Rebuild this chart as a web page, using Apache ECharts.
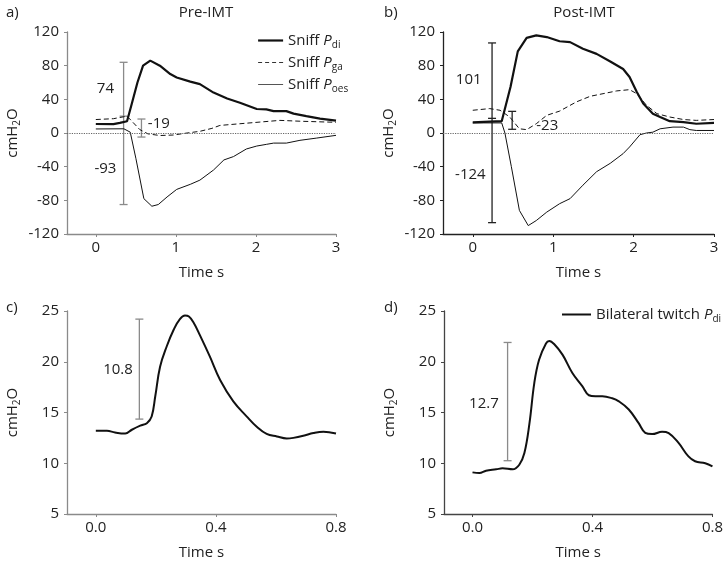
<!DOCTYPE html>
<html><head><meta charset="utf-8">
<script src="https://cdn.jsdelivr.net/npm/echarts@6/dist/echarts.min.js"></script>
<style>html,body{margin:0;padding:0;background:#fff}#c{width:726px;height:564px}</style>
</head><body><div id="c"></div>
<script>
// ---------- DATA ----------
const timeTicksSniff = [0, 1, 2, 3];
const timeTicksTwitch = [0, 0.4, 0.8];
const panelTitles = ['Pre-IMT', 'Post-IMT'];
const panelLetters = ['a)', 'b)', 'c)', 'd)'];
const seriesNames = ['Sniff Pdi', 'Sniff Pga', 'Sniff Poes', 'Bilateral twitch Pdi'];

// Panel a (Pre-IMT) [time s, cmH2O]
const aPdi = [[0,10.7],[0.22,10.5],[0.3,12],[0.39,14],[0.45,35],[0.52,60],[0.59,80],[0.68,86],[0.8,80],[0.93,70],[1.01,66],[1.18,61],[1.3,58],[1.47,48],[1.64,41],[1.8,36],[2.01,28.5],[2.13,28],[2.22,26],[2.38,26],[2.47,23],[2.63,20],[2.8,17],[3.0,14.7]];
const aPga = [[0,16],[0.22,17],[0.39,20],[0.47,12],[0.55,4],[0.65,-1],[0.8,-3],[0.97,-2.4],[1.14,0],[1.3,2],[1.45,5.5],[1.55,9],[1.8,11],[2.05,13],[2.3,15],[2.55,14],[3.0,12.7]];
const aPoes = [[0,4.8],[0.35,5],[0.43,1],[0.5,-30],[0.6,-78],[0.7,-87],[0.78,-85],[0.89,-76],[1.01,-67],[1.18,-61],[1.3,-56],[1.47,-44],[1.6,-32],[1.72,-28],[1.88,-19],[2.01,-15.5],[2.13,-13.5],[2.22,-12],[2.38,-12],[2.55,-8.7],[2.76,-6],[3.0,-2.8]];

// Panel b (Post-IMT)
const bPdi = [[0,12.7],[0.21,13.5],[0.36,14],[0.38,15],[0.47,55],[0.56,97],[0.67,113],[0.79,116],[0.92,114],[1.08,109],[1.21,108],[1.37,100],[1.54,94],[1.71,85],[1.87,76],[1.95,66.5],[2.04,48.7],[2.12,35],[2.24,23],[2.33,19],[2.45,14],[2.62,13],[2.78,11],[3.0,12]];
const bPga = [[0,27],[0.21,29],[0.34,27],[0.46,19],[0.58,5],[0.67,4],[0.79,11],[0.92,21],[1.08,26],[1.29,37],[1.46,43.6],[1.62,46.7],[1.79,50],[1.95,51.5],[2.04,46.7],[2.16,33],[2.29,23],[2.45,19],[2.62,16],[2.78,15],[3.0,16]];
const bPoes = [[0,12],[0.36,12],[0.4,0],[0.48,-40],[0.58,-92],[0.69,-110],[0.79,-104],[0.92,-94],[1.08,-84],[1.21,-78],[1.37,-62],[1.54,-46],[1.71,-36],[1.87,-24.5],[1.95,-16.6],[2.08,-2],[2.16,0],[2.24,1],[2.33,5],[2.49,7],[2.62,7],[2.7,4],[2.78,3],[3.0,3]];

// Panel c (Pre-IMT twitch)
const cTwitch = [[0,13.2],[0.037,13.2],[0.064,13.03],[0.098,12.93],[0.12,13.3],[0.148,13.7],[0.17,13.95],[0.186,14.6],[0.198,16.6],[0.214,19.5],[0.236,21.5],[0.26,23.2],[0.28,24.2],[0.297,24.55],[0.31,24.45],[0.325,23.9],[0.347,22.6],[0.38,20.5],[0.414,18.2],[0.458,16.1],[0.503,14.6],[0.536,13.6],[0.569,12.9],[0.603,12.64],[0.636,12.44],[0.658,12.5],[0.691,12.7],[0.725,12.97],[0.758,13.1],[0.8,12.93]];
// Panel d (Post-IMT twitch)
const dTwitch = [[0,9.1],[0.023,9.03],[0.045,9.26],[0.079,9.4],[0.1,9.5],[0.134,9.4],[0.156,9.85],[0.173,11],[0.19,13.95],[0.206,17.9],[0.222,20.2],[0.245,21.8],[0.256,22.05],[0.272,21.75],[0.3,20.7],[0.333,18.9],[0.366,17.6],[0.388,16.7],[0.41,16.6],[0.433,16.6],[0.466,16.4],[0.488,16.1],[0.521,15.3],[0.554,13.95],[0.576,13.0],[0.599,12.87],[0.632,13.1],[0.654,12.97],[0.687,12.0],[0.72,10.67],[0.742,10.2],[0.776,10.0],[0.8,9.7]];

// Error bars [time, low, high]; optional middle caps
const aBars = [[0.347,-85,84],[0.57,-4.8,16.6]];
const aMidCaps = [[0.347,20]];
const bBars = [[0.24,-106.5,107],[0.49,4.4,25.7]];
const bMidCaps = [[0.24,17.4]];
const cBars = [[0.145,14.35,24.2]];
const dBars = [[0.117,10.25,21.9]];

// Annotations [time, value], labels
const aNotePos = [[0.12,52],[0.12,-42],[0.65,11.5]];
const aNoteText = ['74','-93','-19'];
const bNotePos = [[-0.05,63],[-0.03,-50],[0.79,8.3]];
const bNoteText = ['101','-124','-23'];
const cNotePos = [[0.074,19.2]];
const cNoteText = ['10.8'];
const dNotePos = [[0.038,15.9]];
const dNoteText = ['12.7'];

// ---------- CHART ----------
const FONT = 'Open Sans';
const FS = 15;
const chart = echarts.init(document.getElementById('c'));
const rich = {
  t: {fontFamily: FONT, fontSize: FS, color: '#222', lineHeight: 19},
  i: {fontFamily: FONT, fontSize: FS, color: '#222', fontStyle: 'italic', lineHeight: 19},
  s: {fontFamily: FONT, fontSize: 10, color: '#222', verticalAlign: 'bottom', lineHeight: 12}
};
const grids = [
  {left: 67, top: 32, width: 269, height: 202},
  {left: 443, top: 32, width: 271, height: 202},
  {left: 67, top: 311, width: 269, height: 203},
  {left: 444, top: 311, width: 270, height: 203}
];
const axisCols = ['#8a8a8a', '#222', '#8a8a8a', '#444'];
const barCols = ['#8a8a8a', '#222', '#8a8a8a', '#8a8a8a'];

function xAx(i, min, max, ticks, fmt) {
  return {
    type: 'value', gridIndex: i, min: min, max: max,
    name: 'Time s', nameLocation: 'middle', nameGap: 31,
    nameTextStyle: {fontFamily: FONT, fontSize: FS, color: '#222'},
    axisLine: {show: true, onZero: false, lineStyle: {color: axisCols[i], width: 1.3}},
    axisTick: {show: true, length: 3, customValues: ticks, lineStyle: {color: axisCols[i]}},
    axisLabel: {customValues: ticks, margin: 6, fontFamily: FONT, fontSize: FS, color: '#222', formatter: fmt},
    splitLine: {show: false}
  };
}
function yAx(i, min, max, interval) {
  return {
    type: 'value', gridIndex: i, min: min, max: max, interval: interval,
    name: '{t|cmH}{s|2}{t|O}', nameLocation: 'middle', nameGap: 45, nameRotate: 90,
    nameTextStyle: {rich: rich},
    axisLine: {show: true, onZero: false, lineStyle: {color: axisCols[i], width: 1.3}},
    axisTick: {show: true, length: 3, lineStyle: {color: axisCols[i]}},
    axisLabel: {margin: 8, fontFamily: FONT, fontSize: FS, color: '#222'},
    splitLine: {show: false}
  };
}

function barSeries(i, bars, mids) {
  return {
    type: 'custom', xAxisIndex: i, yAxisIndex: i, data: bars, silent: true, z: 1,
    encode: {x: 0, y: [1, 2]},
    renderItem: function (params, api) {
      const x = api.value(0);
      const lo = api.coord([x, api.value(1)]);
      const hi = api.coord([x, api.value(2)]);
      const st = {stroke: barCols[i], lineWidth: 1.3};
      const w = 4;
      const ch = [
        {type: 'line', shape: {x1: lo[0], y1: lo[1], x2: hi[0], y2: hi[1]}, style: st},
        {type: 'line', shape: {x1: lo[0]-w, y1: lo[1], x2: lo[0]+w, y2: lo[1]}, style: st},
        {type: 'line', shape: {x1: hi[0]-w, y1: hi[1], x2: hi[0]+w, y2: hi[1]}, style: st}
      ];
      (mids || []).forEach(function (m) {
        if (m[0] === x) {
          const p = api.coord(m);
          ch.push({type: 'line', shape: {x1: p[0]-w, y1: p[1], x2: p[0]+w, y2: p[1]}, style: st});
        }
      });
      return {type: 'group', children: ch};
    }
  };
}
function noteSeries(i, pos, texts, leftIdx) {
  return {
    type: 'custom', xAxisIndex: i, yAxisIndex: i, data: pos, silent: true, z: 3,
    renderItem: function (params, api) {
      const p = api.coord([api.value(0), api.value(1)]);
      const isLeft = leftIdx.indexOf(params.dataIndex) >= 0;
      return {type: 'text', x: p[0], y: p[1], style: {
        text: texts[params.dataIndex], fontFamily: FONT, fontSize: FS, fill: '#222',
        align: isLeft ? 'left' : 'center', verticalAlign: 'middle'}};
    }
  };
}
function lineS(name, i, data, width, type, smooth) {
  return {
    name: name, type: 'line', xAxisIndex: i, yAxisIndex: i, data: data,
    symbol: 'none', showSymbol: false, smooth: smooth || false, z: 2,
    lineStyle: {color: '#111', width: width, type: type}, itemStyle: {color: '#111'}
  };
}
const zeroLine = {
  silent: true, symbol: 'none', label: {show: false},
  lineStyle: {color: '#666', width: 1.2, type: 'dotted'},
  data: [{yAxis: 0}]
};

const fmt1 = v => v.toFixed(1);
const aP = lineS(seriesNames[0], 0, aPdi, 2.2, 'solid');
aP.markLine = zeroLine;
const bP = lineS(seriesNames[0], 1, bPdi, 2.2, 'solid');
bP.markLine = zeroLine;

const legendFmt = function (n) {
  const m = {'Sniff Pdi': '{t|Sniff }{i|P}{s|di}', 'Sniff Pga': '{t|Sniff }{i|P}{s|ga}',
    'Sniff Poes': '{t|Sniff }{i|P}{s|oes}', 'Bilateral twitch Pdi': '{t|Bilateral twitch }{i|P}{s|di}'};
  return m[n];
};
const titleStyle = {fontFamily: FONT, fontSize: FS, fontWeight: 'normal', color: '#222'};

chart.setOption({
  animation: false,
  title: [
    {text: panelTitles[0], left: 201, top: 0, textAlign: 'center', textStyle: titleStyle},
    {text: panelTitles[1], left: 579, top: 0, textAlign: 'center', textStyle: titleStyle},
    {text: panelLetters[0], left: 1, top: 0, textStyle: titleStyle},
    {text: panelLetters[1], left: 379, top: 0, textStyle: titleStyle},
    {text: panelLetters[2], left: 1, top: 295, textStyle: titleStyle},
    {text: panelLetters[3], left: 379, top: 295, textStyle: titleStyle}
  ],
  legend: [
    {data: [
       {name: seriesNames[0], lineStyle: {width: 2.2, color: '#111'}},
       {name: seriesNames[1], lineStyle: {width: 1, color: '#333', type: [4, 3]}},
       {name: seriesNames[2], lineStyle: {width: 1, color: '#555'}}
     ],
     orient: 'vertical', left: 252, top: 28, itemWidth: 25, itemHeight: 14, itemGap: 5,
     itemStyle: {opacity: 0}, formatter: legendFmt, textStyle: {rich: rich}, selectedMode: false},
    {data: [{name: seriesNames[3], lineStyle: {width: 2, color: '#111'}}], left: 556, top: 302, itemWidth: 29, itemHeight: 14,
     itemStyle: {opacity: 0}, formatter: legendFmt, textStyle: {rich: rich}, selectedMode: false}
  ],
  grid: grids,
  xAxis: [
    xAx(0, -0.36, 3, timeTicksSniff),
    xAx(1, -0.37, 3, timeTicksSniff),
    xAx(2, -0.096, 0.8, timeTicksTwitch, fmt1),
    xAx(3, -0.095, 0.8, timeTicksTwitch, fmt1)
  ],
  yAxis: [yAx(0, -120, 120, 40), yAx(1, -120, 120, 40), yAx(2, 5, 25, 5), yAx(3, 5, 25, 5)],
  series: [
    aP,
    lineS(seriesNames[1], 0, aPga, 1, [5, 3]),
    lineS(seriesNames[2], 0, aPoes, 1, 'solid'),
    bP,
    lineS(seriesNames[1], 1, bPga, 1, [5, 3]),
    lineS(seriesNames[2], 1, bPoes, 1, 'solid'),
    lineS('c twitch', 2, cTwitch, 2, 'solid', 0.4),
    lineS(seriesNames[3], 3, dTwitch, 2, 'solid', 0.4),
    barSeries(0, aBars, aMidCaps), barSeries(1, bBars, bMidCaps), barSeries(2, cBars), barSeries(3, dBars),
    noteSeries(0, aNotePos, aNoteText, [2]), noteSeries(1, bNotePos, bNoteText, [2]),
    noteSeries(2, cNotePos, cNoteText, []), noteSeries(3, dNotePos, dNoteText, [])
  ]
});
</script></body></html>
